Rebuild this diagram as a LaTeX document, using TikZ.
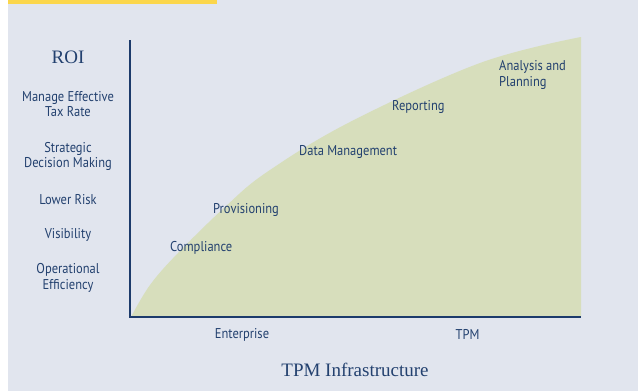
\documentclass[tikz,border=0pt]{standalone}
\usepackage{fontspec}
\setmainfont{Liberation Serif}
\newfontfamily\lblfont[FakeStretch=0.88]{PT Sans}
\definecolor{bgc}{HTML}{E1E5EE}
\definecolor{navy}{HTML}{1C3B6B}
\definecolor{txt}{HTML}{23416F}
\definecolor{greenf}{HTML}{D7DEBC}
\definecolor{yel}{HTML}{FBD64B}
\tikzset{
  lbl/.style={font=\lblfont\fontsize{14.2}{15.8}\selectfont, text=txt, inner sep=0pt, align=center, yshift=-1.5pt},
  lbll/.style={lbl, align=left, anchor=west},
  ttl/.style={font=\fontsize{19}{21}\selectfont, text=txt, inner sep=0pt},
  axisline/.style={draw=navy, line width=2pt}
}
\begin{document}
\begin{tikzpicture}[x=1pt,y=-1pt]
\useasboundingbox (0,0) rectangle (638,391);
\fill[white] (0,0) rectangle (638,391);
\fill[bgc] (8,0) rectangle (638,391);
\fill[yel] (8,0) rectangle (217,4);
% green area
\fill[greenf] plot[smooth, tension=0.6] coordinates {(131,317) (150,285) (178,253) (225,207) (267,172) (350,122) (480,63) (581,37)} -- (581,317) -- cycle;
% axes
\coordinate (ytop) at (130,40);
\coordinate (origin) at (130,317);
\coordinate (xend) at (581,317);
\draw[axisline] (ytop) -- (origin) -- (xend);
% y labels
\node[ttl] (roi) at (68,57) {ROI};
\node[lbl] (met) at (68,102.5) {Manage Effective\\Tax Rate};
\node[lbl] (sdm) at (68,155) {Strategic\\Decision Making};
\node[lbl] (lr) at (68,198) {Lower Risk};
\node[lbl] (vis) at (68,233) {Visibility};
\node[lbl] (oe) at (68,276.5) {Operational\\Efficiency};
% curve labels
\node[lbll] (comp) at (170,246) {Compliance};
\node[lbll] (prov) at (213,208) {Provisioning};
\node[lbll] (dm) at (299,150) {Data Management};
\node[lbll] (rep) at (392,105) {Reporting};
\node[lbll] (ap) at (499,73.5) {Analysis and\\Planning};
% x labels
\node[lbl] (ent) at (242,333) {Enterprise};
\node[lbl] (tpm) at (467.5,333) {TPM};
\node[ttl] (tpmi) at (355,370) {TPM Infrastructure};
\end{tikzpicture}
\end{document}
